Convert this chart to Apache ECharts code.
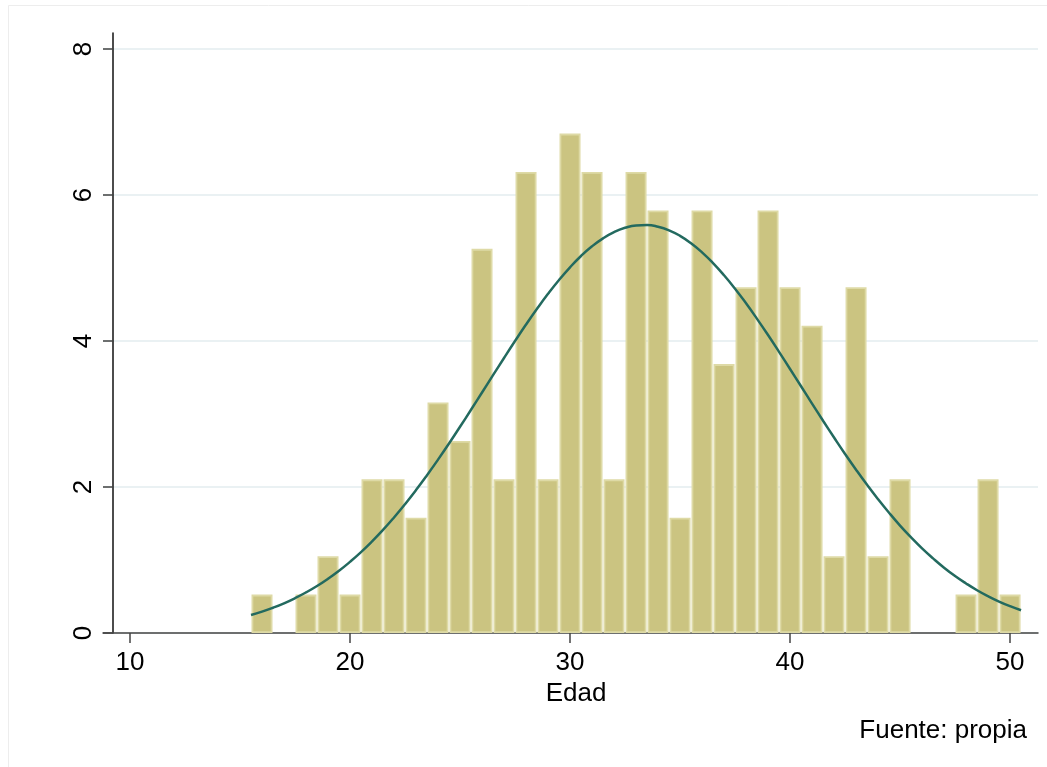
<!DOCTYPE html>
<html>
<head>
<meta charset="utf-8">
<script src="https://cdn.jsdelivr.net/npm/echarts@6/dist/echarts.min.js"></script>
<style>
html,body{margin:0;padding:0;background:#fff;}
#chart{width:1047px;height:767px;}
</style>
</head>
<body>
<div id="chart"></div>
<script>
// Histogram bins (centre of 1-year bin) and their density (percent)
var binCenters = [16, 18, 19, 20, 21, 22, 23, 24, 25, 26, 27, 28, 29, 30, 31, 32, 33, 34, 35, 36, 37, 38, 39, 40, 41, 42, 43, 44, 45, 48, 49, 50];
var binDensity = [0.526, 0.526, 1.053, 0.526, 2.105, 2.105, 1.579, 3.158, 2.632, 5.263, 2.105, 6.316, 2.105, 6.842, 6.316, 2.105, 6.316, 5.789, 1.579, 5.789, 3.684, 4.737, 5.789, 4.737, 4.211, 1.053, 4.737, 1.053, 2.105, 0.526, 2.105, 0.526];

// Normal curve overlay (every half year)
var curveX = [15.5, 16, 16.5, 17, 17.5, 18, 18.5, 19, 19.5, 20, 20.5, 21, 21.5, 22, 22.5, 23, 23.5, 24, 24.5, 25, 25.5, 26, 26.5, 27, 27.5, 28, 28.5, 29, 29.5, 30, 30.5, 31, 31.5, 32, 32.5, 33, 33.5, 34, 34.5, 35, 35.5, 36, 36.5, 37, 37.5, 38, 38.5, 39, 39.5, 40, 40.5, 41, 41.5, 42, 42.5, 43, 43.5, 44, 44.5, 45, 45.5, 46, 46.5, 47, 47.5, 48, 48.5, 49, 49.5, 50, 50.5];
var curveY = [0.246, 0.292, 0.346, 0.407, 0.477, 0.556, 0.644, 0.743, 0.853, 0.975, 1.108, 1.254, 1.412, 1.583, 1.765, 1.958, 2.162, 2.375, 2.596, 2.825, 3.058, 3.295, 3.532, 3.768, 4.000, 4.226, 4.442, 4.647, 4.837, 5.010, 5.165, 5.298, 5.407, 5.492, 5.551, 5.584, 5.589, 5.566, 5.517, 5.441, 5.340, 5.215, 5.068, 4.901, 4.717, 4.517, 4.304, 4.082, 3.852, 3.617, 3.380, 3.143, 2.908, 2.678, 2.453, 2.237, 2.030, 1.833, 1.647, 1.472, 1.310, 1.159, 1.022, 0.895, 0.781, 0.679, 0.586, 0.504, 0.431, 0.367, 0.311];

var xTicks = [10, 20, 30, 40, 50];
var yTicks = [0, 2, 4, 6, 8];

var barData = binCenters.map(function (c, i) { return [c, binDensity[i]]; });
var lineData = curveX.map(function (x, i) { return [x, curveY[i]]; });

var font = 'Liberation Sans, Arial, sans-serif';
var chart = echarts.init(document.getElementById('chart'));
chart.setOption({
  animation: false,
  backgroundColor: '#ffffff',
  graphic: [{
    type: 'rect', silent: true, z: -10,
    shape: { x: 8.5, y: 5.5, width: 1200, height: 1000 },
    style: { fill: 'none', stroke: '#ededed', lineWidth: 1 }
  }],
  title: {
    text: 'Fuente: propia',
    right: 15, top: 713,
    textStyle: { fontFamily: font, fontSize: 26, fontWeight: 'normal', color: '#000' }
  },
  grid: { left: 103, right: 9, top: 33, bottom: 134 },
  xAxis: {
    type: 'value',
    min: 8.773, max: 51.27,
    name: 'Edad', nameLocation: 'middle', nameGap: 43,
    nameTextStyle: { fontFamily: font, fontSize: 26, color: '#000', padding: [0, 0, 0, 11] },
    axisLine: { show: true, onZero: false, lineStyle: { color: '#444', width: 1.5 } },
    axisTick: { show: true, length: 10, customValues: xTicks, lineStyle: { color: '#444', width: 1.5 } },
    axisLabel: { customValues: xTicks, margin: 17, fontFamily: font, fontSize: 26, color: '#000' },
    splitLine: { show: false }
  },
  yAxis: {
    type: 'value',
    min: 0, max: 8.22,
    offset: -10,
    axisLine: { show: true, lineStyle: { color: '#111', width: 1.5 } },
    axisTick: { show: true, length: 10, customValues: yTicks, lineStyle: { color: '#444', width: 1.5 } },
    axisLabel: { customValues: yTicks, rotate: 90, margin: 16, fontFamily: font, fontSize: 26, color: '#000' },
    splitLine: { show: true, lineStyle: { color: '#eaf1f3', width: 2 } }
  },
  series: [{
    type: 'bar',
    data: barData,
    barWidth: 21,
    itemStyle: { color: '#cbc481', borderColor: '#dedaa6', borderWidth: 1.8 },
    z: 2
  }, {
    type: 'line',
    data: lineData,
    smooth: true,
    showSymbol: false,
    lineStyle: { color: '#236a5f', width: 2.5 },
    z: 3
  }]
});
</script>
</body>
</html>
